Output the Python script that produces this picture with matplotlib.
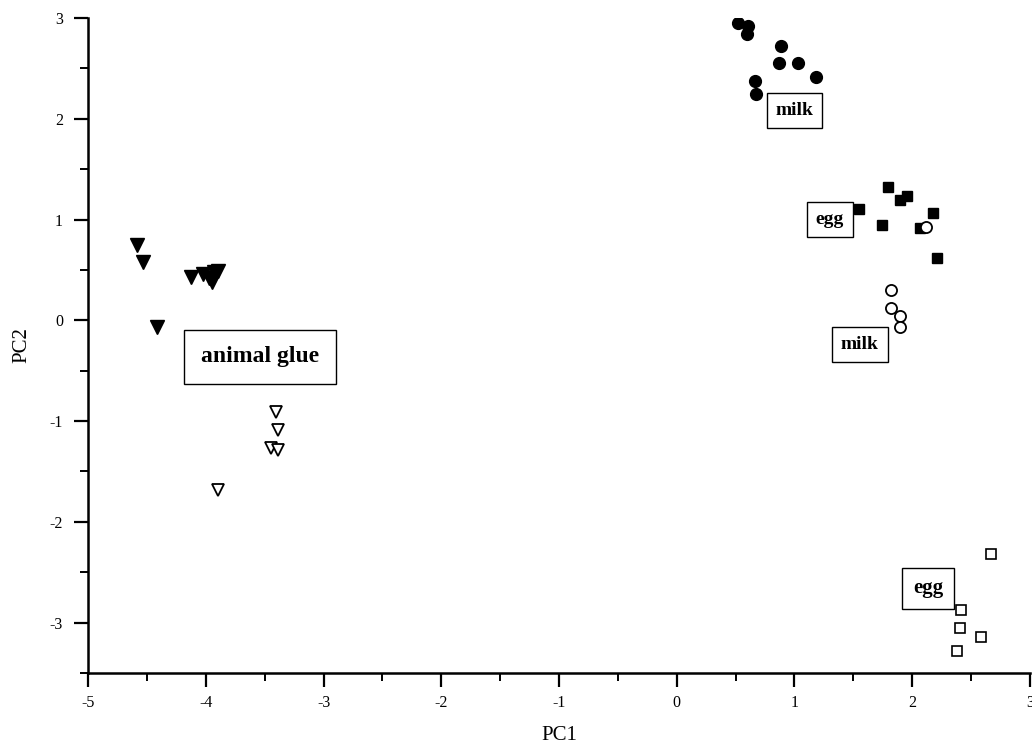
import numpy as np
import matplotlib.pyplot as plt
from matplotlib.ticker import MultipleLocator

plt.rcParams['font.family'] = ['Liberation Serif', 'DejaVu Serif']
plt.rcParams['axes.unicode_minus'] = False

# PCA scores
milk_filled_x = [0.52, 0.605, 0.597, 0.885, 0.868, 1.03, 1.18, 0.665, 0.673]
milk_filled_y = [2.95, 2.92, 2.84, 2.72, 2.55, 2.55, 2.41, 2.375, 2.245]

egg_filled_x = [1.794, 1.548, 1.896, 1.955, 2.176, 1.743, 2.066, 2.21]
egg_filled_y = [1.323, 1.105, 1.194, 1.234, 1.065, 0.946, 0.917, 0.619]

milk_open_x = [2.117, 1.82, 1.82, 1.896, 1.896]
milk_open_y = [0.927, 0.30, 0.123, 0.044, -0.065]

glue_filled_x = [-4.584, -4.533, -4.125, -4.02, -3.97, -3.93, -3.90, -3.95, -4.414]
glue_filled_y = [0.748, 0.579, 0.43, 0.46, 0.42, 0.48, 0.49, 0.38, -0.065]

glue_open_x = [-3.403, -3.386, -3.446, -3.386, -3.896]
glue_open_y = [-0.909, -1.087, -1.266, -1.286, -1.683]

egg_open_x = [2.669, 2.414, 2.405, 2.584, 2.38]
egg_open_y = [-2.317, -2.873, -3.052, -3.141, -3.28]

labels = ["milk", "egg", "milk", "animal glue", "egg"]
label_x = [1.0, 1.30, 1.556, -3.54, 2.134]
label_y = [2.08, 1.0, -0.24, -0.36, -2.66]
label_size = [14, 14, 14, 17, 15]


def main():
    fig = plt.figure(figsize=(10.32, 7.5), dpi=100)
    ax = fig.add_axes([0.0853, 0.1027, 0.9127, 0.8733])

    ax.plot(milk_filled_x, milk_filled_y, 'o', color='black', ms=8.5, ls='none')
    ax.plot(egg_filled_x, egg_filled_y, 's', color='black', ms=7.5, ls='none')
    ax.plot(milk_open_x, milk_open_y, 'o', mfc='white', mec='black', mew=1.3, ms=8, ls='none')
    ax.plot(glue_filled_x, glue_filled_y, 'v', color='black', ms=10, ls='none')
    ax.plot(glue_open_x, glue_open_y, 'v', mfc='white', mec='black', mew=1.3, ms=9, ls='none')
    ax.plot(egg_open_x, egg_open_y, 's', mfc='white', mec='black', mew=1.2, ms=7, ls='none')

    for txt, x, y, fs in zip(labels, label_x, label_y, label_size):
        pad = 0.7 if fs > 16 else (0.5 if fs == 15 else 0.45)
        ax.text(x, y, txt, ha='center', va='center', fontsize=fs, fontweight='bold',
                bbox=dict(boxstyle=f'square,pad={pad}', fc='white', ec='black', lw=1.0))

    ax.set_xlim(-5, 3)
    ax.set_ylim(-3.5, 3)
    ax.xaxis.set_major_locator(MultipleLocator(1))
    ax.xaxis.set_minor_locator(MultipleLocator(0.5))
    ax.yaxis.set_major_locator(MultipleLocator(1))
    ax.yaxis.set_minor_locator(MultipleLocator(0.5))

    ax.spines['top'].set_visible(False)
    ax.spines['right'].set_visible(False)
    ax.spines['left'].set_linewidth(1.8)
    ax.spines['bottom'].set_linewidth(1.8)
    ax.tick_params(which='major', direction='out', length=10, width=1.6, labelsize=11.5, pad=6)
    ax.tick_params(which='minor', direction='out', length=6, width=1.4)
    ax.tick_params(axis='y', which='major', pad=8)

    ax.set_xlabel("PC1", fontsize=15, labelpad=11)
    ax.set_ylabel("PC2", fontsize=15, labelpad=13)

    fig.savefig("out.png", dpi=100)


if __name__ == "__main__":
    main()
